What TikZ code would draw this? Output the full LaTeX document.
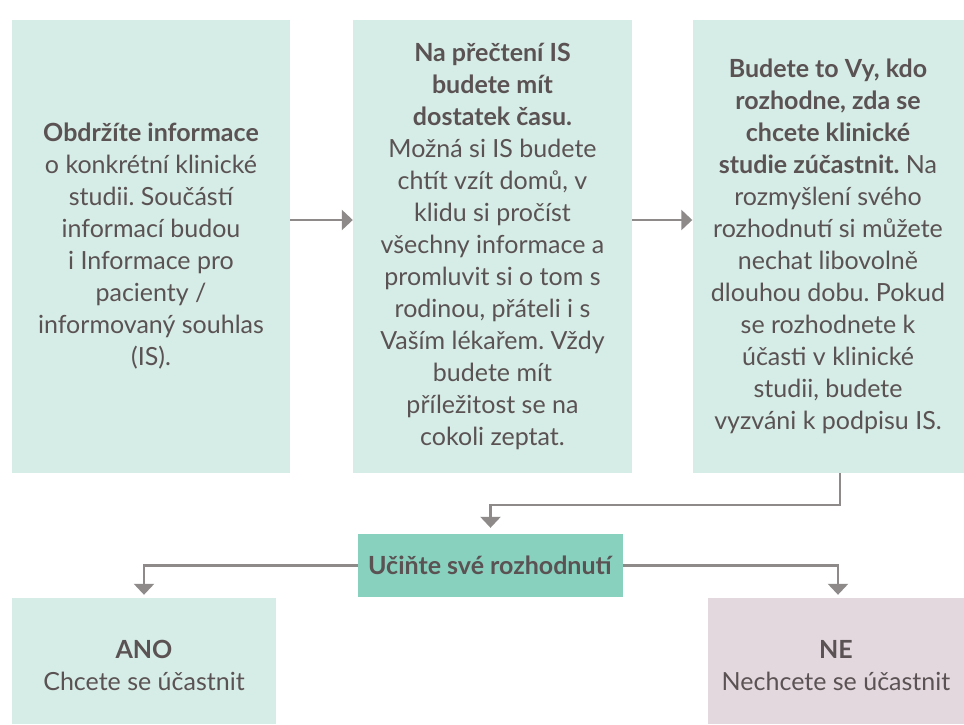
\documentclass[tikz,border=0pt]{standalone}
\usepackage{fontspec}
\setmainfont{Lato}
\frenchspacing
\usetikzlibrary{arrows.meta}
\definecolor{boxg}{HTML}{D6ECE6}
\definecolor{decg}{HTML}{88D1BF}
\definecolor{nepink}{HTML}{E3D8DE}
\definecolor{txt}{HTML}{5A5253}
\definecolor{arrg}{HTML}{8E8A8A}
\begin{document}
\begin{tikzpicture}[x=1pt,y=1pt,
  box/.style={fill=boxg, inner sep=0pt, text=txt, align=center,
    font=\fontsize{25}{32}\selectfont},
  arr/.style={draw=arrg, line width=2.5pt,
    -{Triangle[width=20pt,length=11pt]}}]
\useasboundingbox (0,0) rectangle (964,-724);
\node[box, minimum width=278pt, minimum height=453pt] (b1) at (151,-246.5)
  {\textbf{Obdržíte informace}\\o konkrétní klinické\\studii. Součástí\\informací budou\\i Informace pro\\pacienty /\\informovaný souhlas\\(IS).};
\node[box, minimum width=279pt, minimum height=453pt] (b2) at (492.5,-246.5)
  {\textbf{Na přečtení IS}\\\textbf{budete mít}\\\textbf{dostatek času.}\\Možná si IS budete\\chtít vzít domů, v\\klidu si pročíst\\všechny informace a\\promluvit si o tom s\\rodinou, přáteli i s\\Vaším lékařem. Vždy\\budete mít\\příležitost se na\\cokoli zeptat.};
\node[box, minimum width=271pt, minimum height=453pt] (b3) at (828,-246.5)
  {\textbf{Budete to Vy, kdo}\\\textbf{rozhodne, zda se}\\\textbf{chcete klinické}\\\textbf{studie zúčastnit.} Na\\rozmyšlení svého\\rozhodnutí si můžete\\nechat libovolně\\dlouhou dobu. Pokud\\se rozhodnete k\\účasti v klinické\\studii, budete\\vyzváni k podpisu IS.};
\node[box, fill=decg, minimum width=265pt, minimum height=63pt] (dec) at (490.5,-565.5)
  {\textbf{Učiňte své rozhodnutí}};
\node[box, minimum width=264pt, minimum height=126pt] (ano) at (144,-661)
  {\rule{0pt}{28pt}\textbf{ANO}\\Chcete se účastnit};
\node[box, fill=nepink, minimum width=256pt, minimum height=126pt] (ne) at (836,-661)
  {\rule{0pt}{28pt}\textbf{NE}\\Nechcete se účastnit};
\draw[arr] ([yshift=26.5pt]b1.east) -- ([yshift=26.5pt]b2.west);
\draw[arr] ([yshift=26.5pt]b2.east) -- ([yshift=26.5pt]b3.west);
\draw[arr] ([xshift=12pt]b3.south) -- ++(0,-32) -| ([yshift=6pt]dec.north);
\draw[arr] (dec.west) -| ([yshift=3pt]ano.north);
\draw[arr] (dec.east) -| ([xshift=2pt,yshift=3pt]ne.north);
\end{tikzpicture}
\end{document}
